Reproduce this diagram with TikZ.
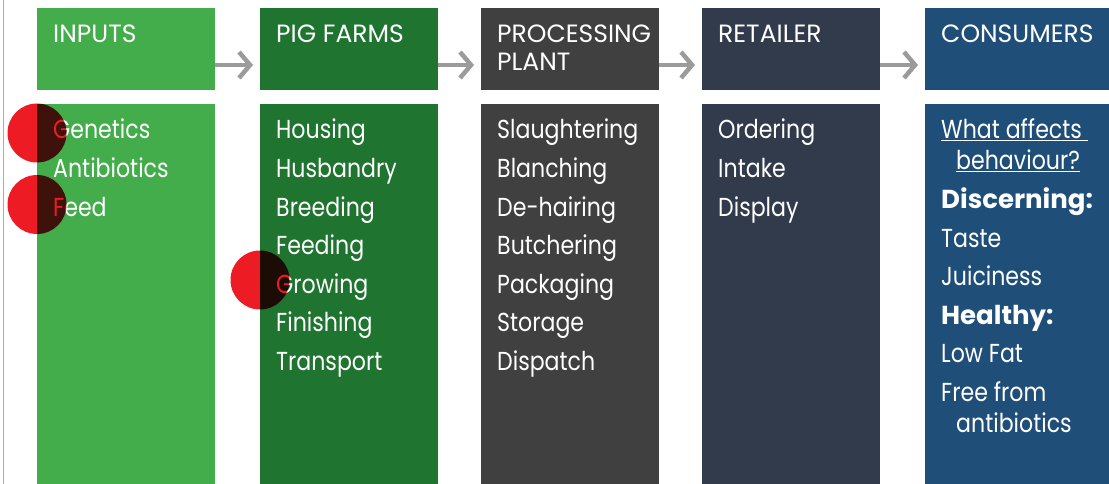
\documentclass[tikz,border=0pt]{standalone}
\usepackage{fontspec}
\setmainfont{Poppins}[FakeStretch=0.85]
\newfontfamily\widefont{Poppins}
\usetikzlibrary{arrows.meta}
\definecolor{inputGreen}{HTML}{43AC4B}
\definecolor{farmGreen}{HTML}{1F7430}
\definecolor{plantGrey}{HTML}{404040}
\definecolor{retailSlate}{HTML}{323B4C}
\definecolor{consumerBlue}{HTML}{1F4E79}
\definecolor{flowGrey}{HTML}{9B9B9B}
\definecolor{spotRed}{HTML}{ED1C24}
\definecolor{edgeGreen}{HTML}{8CC08F}

\begin{document}
\begin{tikzpicture}[x=1pt, y=-1pt,
  hbox/.style={minimum width=178pt, minimum height=82pt, inner sep=0pt, anchor=north west},
  bbox/.style={minimum width=178pt, minimum height=380pt, inner sep=0pt, anchor=north west},
  head/.style={text=white, font=\widefont\fontsize{25}{28}\selectfont, inner sep=0pt, anchor=base west},
  item/.style={text=white, font=\fontsize{26}{30}\selectfont, inner sep=0pt, anchor=base west},
  boldtitle/.style={item, font=\widefont\fontsize{26}{30}\selectfont\bfseries},
  flow/.style={draw=flowGrey, line width=4.5pt, -{Straight Barb[length=11pt,width=26pt]}},
  spot/.style={circle, fill=spotRed, minimum size=59pt, inner sep=0pt}]
\useasboundingbox (0,0) rectangle (1109,484);
\draw[edgeGreen, line width=1pt] (3.5,0) -- (3.5,484);
% header row
\node[hbox, fill=inputGreen] (inputs) at (37,8) {};
\node[hbox, fill=farmGreen] (farms) at (260,8) {};
\node[hbox, fill=plantGrey] (plant) at (481,8) {};
\node[hbox, fill=retailSlate] (retail) at (702,8) {};
\node[hbox, fill=consumerBlue, minimum width=184pt] (consumers) at (925,8) {};
\node[head] (inputsT) at (53,43) {INPUTS};
\node[head] (farmsT) at (276,43) {PIG FARMS};
\node[head] (plantT) at (497,43) {PROCESSING};
\node[head] (plantT2) at (497,71) {PLANT};
\node[head] (retailT) at (718,43) {RETAILER};
\node[head] (consumersT) at (941,43) {CONSUMERS};
% arrows between stages
\draw[flow] ([yshift=-57pt]inputs.north east) -- ([yshift=-57pt,xshift=-7pt]farms.north west);
\draw[flow] ([yshift=-57pt]farms.north east) -- ([yshift=-57pt,xshift=-7pt]plant.north west);
\draw[flow] ([yshift=-57pt]plant.north east) -- ([yshift=-57pt,xshift=-7pt]retail.north west);
\draw[flow] ([yshift=-57pt]retail.north east) -- ([yshift=-57pt,xshift=-7pt]consumers.north west);
% body columns
\node[bbox, fill=inputGreen] (inputsB) at (37,104) {};
\node[bbox, fill=farmGreen] (farmsB) at (260,104) {};
\node[bbox, fill=plantGrey] (plantB) at (481,104) {};
\node[bbox, fill=retailSlate] (retailB) at (702,104) {};
\node[bbox, fill=consumerBlue, minimum width=184pt] (consumersB) at (925,104) {};
\foreach \t [count=\i] in {Genetics,Antibiotics,Feed}
  \node[item] (in-\i) at (53,{139+38.5*(\i-1)}) {\t};
\foreach \t [count=\i] in {Housing,Husbandry,Breeding,Feeding,Growing,Finishing,Transport}
  \node[item] (farm-\i) at (276,{139+38.5*(\i-1)}) {\t};
\foreach \t [count=\i] in {Slaughtering,Blanching,De-hairing,Butchering,Packaging,Storage,Dispatch}
  \node[item] (plant-\i) at (497,{139+38.5*(\i-1)}) {\t};
\foreach \t [count=\i] in {Ordering,Intake,Display}
  \node[item] (retail-\i) at (718,{139+38.5*(\i-1)}) {\t};
% consumer column
\node[item] (con-1) at (941,139) {\underline{What affects\ }};
\node[item] (con-2) at (956,170) {\underline{behaviour?}};
\node[boldtitle] (con-3) at (941,208.5) {Discerning:};
\node[item] (con-4) at (941,247) {Taste};
\node[item] (con-5) at (941,285.5) {Juiciness};
\node[boldtitle] (con-6) at (941,324) {Healthy:};
\node[item] (con-7) at (941,362.5) {Low Fat};
\node[item] (con-8) at (941,401) {Free from};
\node[item] (con-9) at (956,432) {antibiotics};
% red markers
\begin{scope}[blend mode=multiply]
\node[spot] (spotA) at (37,133) {};
\node[spot] (spotB) at (37,204.5) {};
\node[spot] (spotC) at (260,280) {};
\end{scope}
\end{tikzpicture}
\end{document}
